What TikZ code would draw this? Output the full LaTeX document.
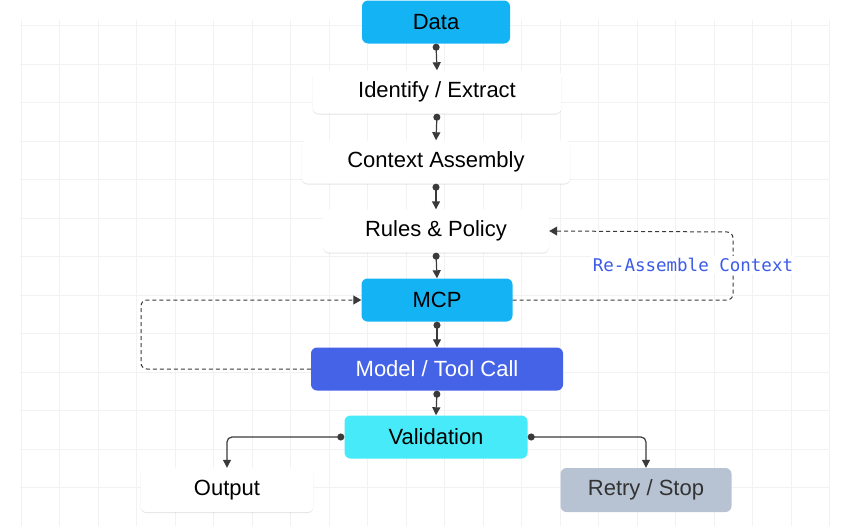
\documentclass[tikz,border=0pt]{standalone}
\usepackage{fontspec}
\setmainfont{Liberation Sans}
\newfontfamily\monof{DejaVu Sans Mono}
\usetikzlibrary{arrows.meta,shadows}
\definecolor{cyanA}{HTML}{14B4F4}
\definecolor{blueB}{HTML}{4563E6}
\definecolor{cyanV}{HTML}{46EAF8}
\definecolor{grayR}{HTML}{B7C3D3}
\definecolor{lnk}{HTML}{3A3A3A}
\definecolor{lbl}{HTML}{3B5BE8}
\begin{document}
\begin{tikzpicture}[x=1pt,y=-1pt,
 box/.style={rounded corners=6pt,minimum height=43pt,font=\fontsize{22}{24}\selectfont,text=black,draw=none},
 wbox/.style={box,fill=white,drop shadow={shadow xshift=0pt,shadow yshift=-1pt,opacity=0.10,fill=black}},
 flow/.style={draw=lnk,line width=1.2pt,{Circle[length=7pt,width=7pt]}-{Triangle[length=8pt,width=8pt]}},
 loop/.style={draw=lnk,line width=1pt,dash pattern=on 4pt off 3pt,rounded corners=6pt,-{Triangle[length=8pt,width=9pt]}}]
\useasboundingbox (0,0) rectangle (849,530);
\begin{scope}
\clip (20,20) rectangle (830,525);
\foreach \i in {0,...,21} \draw[black!5,line width=0.8pt] (21+38.5*\i,0) -- (21+38.5*\i,530);
\foreach \j in {0,...,13} \draw[black!5,line width=0.8pt] (0,25.5+38.5*\j) -- (849,25.5+38.5*\j);
\end{scope}
\node[box,fill=cyanA,minimum width=148pt] (data) at (436,22) {Data};
\node[wbox,minimum width=249pt] (ident) at (437,92) {Identify / Extract};
\node[wbox,minimum width=269pt] (ctx) at (436,162) {Context Assembly};
\node[wbox,minimum width=226pt] (rules) at (436,231) {Rules \& Policy};
\node[box,fill=cyanA,minimum width=151pt] (mcp) at (437,300) {MCP};
\node[box,fill=blueB,text=white,minimum width=252pt] (model) at (437,369) {Model / Tool Call};
\node[box,fill=cyanV,minimum width=183pt] (val) at (436,437) {Validation};
\node[wbox,minimum width=173pt,minimum height=44pt] (out) at (227,490) {Output};
\node[box,fill=grayR,text=black!80,minimum width=171pt,minimum height=44pt] (retry) at (646,490) {Retry / Stop};
\draw[flow] (data.south) -- (ident.north);
\draw[flow] (ident.south) -- (ctx.north);
\draw[flow] (ctx.south) -- (rules.north);
\draw[flow] (rules.south) -- (mcp.north);
\draw[flow] (mcp.south) -- (model.north);
\draw[flow] (model.south) -- (val.north);
\draw[flow,rounded corners=5pt] (val.west) -| (out.north);
\draw[flow,rounded corners=5pt] (val.east) -| (retry.north);
\coordinate (r1) at (733,300);
\coordinate (r2) at (733,232);
\draw[loop] (mcp.east) -- (r1) -- (r2) -- (rules.east);
\coordinate (l1) at (141,369);
\coordinate (l2) at (141,300);
\draw[loop] (model.west) -- (l1) -- (l2) -- (mcp.west);
\node[fill=white,inner sep=2pt,text=lbl,font=\monof\fontsize{17.5}{20}\selectfont] (lab) at (693,265) {Re-Assemble Context};
\end{tikzpicture}
\end{document}
